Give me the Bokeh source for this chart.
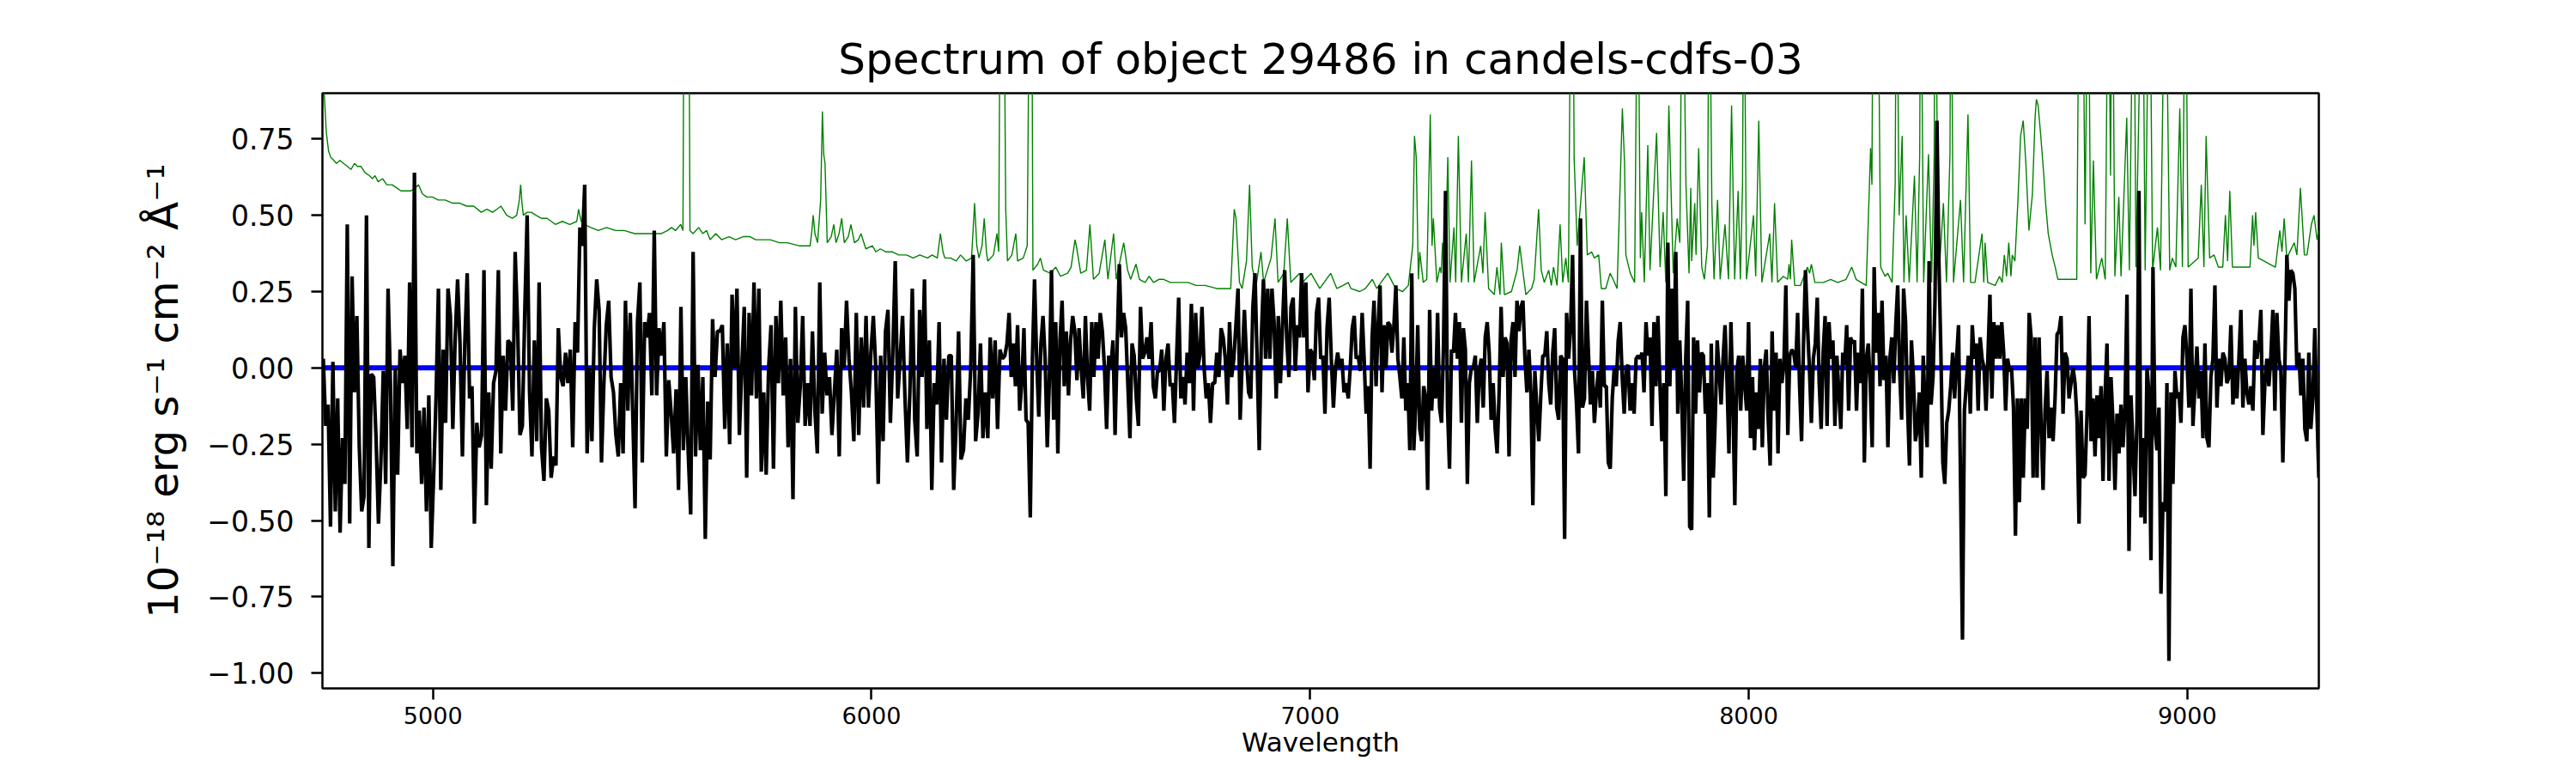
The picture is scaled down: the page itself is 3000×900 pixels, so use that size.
import numpy as np
from bokeh.plotting import figure
from bokeh.models import Range1d, FixedTicker, CustomJSTickFormatter
from bokeh.embed import file_html
from bokeh.resources import INLINE

TITLE = "Spectrum of object 29486 in candels-cdfs-03"
X_LABEL = "Wavelength"
Y_LABEL = "10\u207b\u00b9\u2078 erg s\u207b\u00b9 cm\u207b\u00b2 \u00c5\u207b\u00b9"
x_ticks = [5000, 6000, 7000, 8000, 9000]
y_ticks = [-1.0, -0.75, -0.5, -0.25, 0.0, 0.25, 0.5, 0.75]
x_limits = [4748, 9300]
y_limits = [-1.05, 0.9]

# black spectrum: wavelength segment edges and flux samples per segment
seg_edges = [4750, 5521, 6304, 7087, 7870, 8653, 9300]
flux_seg1 = [0.03, -0.19, -0.12, -0.52, 0.02, -0.47, -0.10, -0.54, -0.23, -0.38, 0.47, -0.51, 0.30, -0.08, 0.17, -0.26, -0.47, -0.42, 0.50, -0.59,
             -0.02, -0.03, -0.23, -0.51, -0.31, -0.01, -0.38, 0.26, -0.05, -0.65, 0.0, -0.35, 0.06, -0.05, 0.04, -0.20, 0.28, -0.26, 0.64, -0.28,
             -0.14, -0.38, -0.13, -0.47, -0.09, -0.59, -0.36, -0.10, 0.26, -0.40, 0.06, -0.18, 0.26, 0.17, -0.20, 0.10, 0.29, 0.08, -0.29, 0.08,
             0.31, -0.10, -0.06, -0.51, -0.18, -0.26, -0.22, 0.32, -0.45, -0.08, -0.33, -0.05, -0.01, 0.32, -0.28, 0.04, -0.14, 0.09, 0.08, -0.14,
             0.38, 0.15, -0.22, -0.19, 0.18, 0.50, -0.08, -0.29, 0.09, -0.24, 0.28, -0.26, -0.37, -0.10, -0.14, -0.36, -0.29, -0.32, 0.13, -0.03,
             -0.06, 0.05, -0.05, 0.06, -0.26, 0.15, 0.05, 0.46, 0.40, 0.60, -0.28, 0.0, -0.24, 0.13, 0.29, 0.19, -0.31, -0.05, 0.14, 0.22,
             -0.03, -0.08, -0.22, -0.29, -0.05, -0.28, 0.22, -0.14, 0.18, -0.14, -0.46, 0.15, 0.28, -0.31, 0.15, 0.10, 0.18, -0.09, 0.45, -0.09, 0.13]
flux_seg2 = [0.04, 0.15, -0.29, -0.04, -0.15, -0.28, -0.07, -0.40, 0.20, -0.27, -0.03, -0.28, -0.48, 0.38, -0.29, 0.01, -0.27, -0.03, -0.56, -0.11,
             -0.30, 0.16, -0.03, 0.12, 0.12, 0.14, -0.20, 0.08, -0.25, 0.24, 0.0, 0.26, -0.22, 0.0, 0.20, -0.36, 0.18, -0.09, 0.28, -0.10,
             0.26, -0.34, -0.08, -0.35, 0.0, 0.14, -0.33, 0.17, -0.05, 0.22, -0.09, 0.10, -0.26, 0.03, -0.43, 0.20, -0.18, -0.06, 0.17, -0.19,
             -0.05, -0.19, 0.12, -0.14, -0.28, 0.28, -0.15, 0.05, -0.09, -0.03, -0.22, -0.08, 0.06, -0.29, 0.13, 0.0, 0.22, 0.03, -0.08, -0.24,
             0.18, -0.22, 0.10, -0.13, 0.17, -0.13, 0.05, 0.17, 0.0, -0.38, 0.04, -0.24, 0.12, 0.19, -0.18, 0.05, 0.35, -0.10, 0.03, 0.17,
             -0.10, -0.31, -0.08, 0.26, -0.17, -0.29, 0.19, -0.03, 0.29, -0.20, 0.09, -0.40, -0.05, -0.12, 0.15, -0.31, 0.03, -0.17, 0.04, 0.04,
             -0.40, -0.18, 0.12, -0.30, -0.27, -0.10, -0.17, 0.0, 0.37, -0.24, -0.15, 0.08, -0.23, -0.08, -0.23, 0.10, -0.10, 0.09, -0.20, 0.06, 0.03]
flux_seg3 = [0.04, 0.08, 0.18, -0.03, 0.08, -0.06, 0.14, -0.14, -0.05, 0.13, -0.17, -0.18, -0.49, 0.03, 0.29, 0.03, -0.16, 0.08, 0.17, 0.03,
             -0.26, -0.04, 0.32, -0.17, 0.15, -0.28, 0.09, 0.22, -0.06, 0.12, -0.09, 0.09, 0.17, 0.12, -0.04, 0.13, 0.0, -0.10, 0.17, -0.03,
             -0.14, 0.15, -0.03, 0.15, 0.03, 0.18, 0.12, 0.0, -0.20, 0.04, 0.0, 0.09, -0.22, 0.08, 0.34, 0.10, 0.18, 0.13, -0.05, -0.23,
             0.08, 0.04, -0.10, -0.19, 0.20, 0.03, 0.05, 0.10, 0.03, 0.15, -0.06, -0.10, -0.01, -0.01, 0.06, -0.14, 0.03, 0.08, -0.06, -0.05,
             -0.18, 0.03, 0.23, -0.10, -0.03, -0.12, 0.05, -0.05, 0.21, -0.14, 0.18, 0.0, 0.04, 0.20, 0.0, -0.10, -0.05, -0.18, -0.05, -0.05,
             0.05, -0.03, 0.13, 0.10, 0.03, -0.12, 0.15, -0.03, 0.03, 0.14, 0.26, -0.17, 0.03, 0.19, 0.03, -0.08, -0.10, 0.20, 0.31, 0.03,
             -0.27, 0.10, 0.29, 0.03, 0.26, 0.03, 0.26, 0.15, -0.10, 0.17, -0.05, 0.14, 0.32, 0.09, -0.03, 0.20, 0.23, -0.01, 0.14, 0.10,
             0.31, 0.10, 0.28, -0.08, 0.06, 0.05, -0.04, 0.18, 0.23, 0.03, 0.04, -0.15, 0.13, 0.23, 0.03, -0.13, 0.0, 0.05, 0.0, 0.03, -0.08, -0.05]
flux_seg4 = [-0.10, 0.0, 0.13, 0.17, 0.03, 0.04, -0.01, 0.18, 0.03, -0.15, -0.06, -0.33, 0.10, 0.22, -0.06, 0.13, 0.27, -0.08, 0.14, 0.0,
             0.15, 0.14, 0.05, 0.14, 0.27, 0.03, -0.03, -0.10, 0.10, -0.14, -0.05, -0.27, 0.31, -0.27, -0.12, 0.14, -0.20, -0.24, -0.06, -0.10,
             -0.40, 0.19, -0.14, 0.0, -0.10, 0.18, -0.13, -0.18, 0.08, 0.58, -0.13, -0.33, 0.06, 0.05, 0.18, 0.03, 0.15, -0.18, 0.13, 0.06,
             -0.38, -0.05, 0.0, 0.0, 0.04, -0.18, -0.01, 0.03, -0.13, 0.10, 0.15, 0.05, -0.17, -0.05, -0.20, -0.28, -0.08, 0.20, -0.03, 0.10,
             0.08, -0.29, 0.09, 0.15, -0.03, 0.22, 0.12, 0.20, 0.22, 0.03, -0.08, 0.06, -0.08, -0.45, -0.01, -0.13, -0.24, -0.09, 0.04, 0.04,
             0.12, -0.05, -0.12, 0.05, 0.13, -0.13, -0.17, 0.04, 0.03, -0.56, 0.18, 0.03, 0.13, 0.37, -0.01, -0.12, -0.28, 0.49, -0.13, -0.10,
             0.22, 0.05, -0.12, -0.01, -0.18, -0.08, -0.01, -0.13, 0.22, -0.06, -0.06, -0.31, -0.33, -0.10, 0.0, -0.06, 0.09, 0.15, -0.03, -0.15,
             0.0, 0.01, -0.14, -0.05, -0.15, 0.03, 0.04, 0.03, 0.05, -0.08, 0.15, 0.04, 0.10, -0.19, 0.15, -0.06, 0.17, -0.05, -0.24, -0.05,
             -0.42, 0.41, -0.06, 0.26, 0.0, 0.38, -0.15, 0.09, -0.10, -0.37, 0.03, 0.22, -0.52]
flux_seg5 = [-0.53, 0.10, -0.15, 0.09, -0.08, 0.05, 0.04, -0.15, -0.05, -0.49, 0.08, -0.36, -0.17, 0.09, -0.01, -0.12, 0.03, 0.14, -0.04, -0.28,
             0.15, -0.10, -0.45, -0.01, 0.04, -0.14, 0.04, -0.05, -0.14, 0.15, -0.23, -0.03, -0.27, -0.08, -0.20, 0.03, -0.26, 0.0, 0.06, -0.17,
             -0.32, 0.12, -0.14, 0.05, -0.28, 0.03, -0.05, 0.01, 0.27, -0.22, 0.04, 0.06, 0.05, 0.0, 0.18, -0.06, -0.24, 0.08, 0.32, 0.14,
             0.0, -0.18, 0.03, 0.08, 0.23, -0.05, -0.20, 0.05, 0.17, -0.19, 0.15, 0.03, 0.09, -0.19, 0.04, -0.08, -0.20, 0.05, 0.01, 0.14,
             -0.14, 0.10, 0.08, 0.09, -0.14, 0.05, -0.05, 0.26, -0.31, 0.03, 0.08, -0.05, -0.26, 0.33, 0.05, 0.18, -0.06, 0.22, -0.04, 0.04,
             -0.26, 0.03, 0.10, -0.05, 0.14, 0.27, -0.01, -0.17, 0.26, 0.15, -0.12, -0.32, 0.09, -0.03, -0.24, -0.20, -0.08, -0.36, 0.04, -0.14,
             -0.26, 0.35, -0.12, -0.03, 0.22, 0.81, 0.35, 0.05, -0.31, -0.38, -0.18, -0.14, -0.06, 0.05, -0.10, 0.03, 0.14, -0.36, -0.89, -0.14,
             -0.05, 0.04, -0.15, 0.14, 0.03, 0.08, -0.14, 0.10, 0.03, 0.0, -0.14, 0.04, 0.24, -0.10, 0.15, 0.03, 0.14, 0.03, 0.15, 0.05,
             -0.14, 0.03, -0.01, 0.0, -0.13, -0.55, -0.10, -0.44, -0.10, -0.36, -0.10, -0.20, 0.18, 0.10, -0.36]
flux_seg6 = [0.10, -0.36, 0.10, -0.18, -0.40, -0.14, -0.01, -0.23, -0.13, -0.24, -0.10, 0.11, 0.12, 0.17, -0.15, 0.05, 0.03, -0.10, -0.05, 0.0,
             -0.05, -0.17, -0.51, -0.14, -0.36, -0.35, -0.15, 0.17, -0.24, -0.10, -0.29, -0.09, -0.23, -0.06, -0.37, -0.09, 0.08, -0.37, -0.03, -0.18,
             -0.40, -0.15, -0.28, -0.12, -0.26, -0.13, 0.24, -0.60, -0.09, -0.26, -0.42, -0.17, 0.58, -0.49, -0.23, -0.51, 0.0, -0.08, -0.63, 0.33,
             -0.20, -0.27, -0.13, -0.74, -0.44, -0.47, -0.05, -0.96, -0.08, -0.38, -0.01, -0.10, -0.08, -0.18, 0.10, 0.14, 0.03, -0.13, 0.26, -0.19,
             -0.06, 0.07, -0.10, -0.01, -0.23, 0.08, -0.23, -0.26, -0.03, 0.03, 0.27, -0.13, 0.03, -0.06, 0.05, 0.03, -0.05, -0.03, 0.14, -0.12,
             0.0, -0.10, 0.03, 0.19, -0.13, 0.03, -0.08, -0.12, -0.06, -0.14, 0.09, 0.03, 0.08, 0.19, -0.22, -0.05, 0.03, -0.06, 0.04, 0.19,
             -0.14, 0.18, 0.03, -0.01, -0.31, 0.0, 0.37, 0.22, 0.32, 0.31, 0.26, 0.0, 0.05, -0.09, 0.03, -0.20, -0.24, 0.05, -0.20, -0.10,
             0.13, -0.13, -0.36]

# green (sky / error) spectrum, read as wavelength / flux vertices
green_wave_a = [4748, 4752, 4757, 4762, 4767, 4774, 4780, 4788, 4796, 4805, 4813, 4821, 4828, 4836, 4845, 4855, 4862, 4868, 4875, 4885,
                4895, 4907, 4917, 4927, 4938, 4950, 4960, 4967, 4976, 4986, 4999, 5012, 5028, 5044, 5060, 5077, 5093, 5110, 5123, 5136,
                5146, 5155, 5168, 5181, 5191, 5197, 5200, 5203, 5206, 5215, 5224, 5235, 5247, 5260, 5270, 5279, 5295, 5312, 5328, 5332,
                5338, 5345, 5360, 5377, 5396, 5416, 5436, 5460, 5482, 5500]
green_flux_a = [1.0, 0.90, 0.77, 0.71, 0.69, 0.68, 0.67, 0.68, 0.67, 0.66, 0.65, 0.67, 0.66, 0.66, 0.64, 0.63, 0.62, 0.63, 0.61, 0.62,
                0.60, 0.60, 0.59, 0.58, 0.58, 0.58, 0.59, 0.60, 0.57, 0.56, 0.56, 0.55, 0.55, 0.54, 0.54, 0.53, 0.53, 0.51, 0.52, 0.51,
                0.52, 0.53, 0.50, 0.49, 0.50, 0.55, 0.60, 0.54, 0.50, 0.51, 0.51, 0.50, 0.49, 0.49, 0.48, 0.47, 0.48, 0.47, 0.48, 0.52,
                0.48, 0.47, 0.46, 0.45, 0.46, 0.45, 0.45, 0.44, 0.44, 0.44]
green_wave_b = [5521, 5535, 5544, 5553, 5565, 5570, 5573, 5583, 5586, 5593, 5606, 5615, 5624, 5632, 5645, 5658, 5675, 5690, 5707, 5723,
                5736, 5749, 5769, 5790, 5808, 5835, 5860, 5864, 5867, 5871, 5877, 5884, 5888, 5891, 5894, 5899, 5908, 5914, 5919, 5926,
                5932, 5938, 5947, 5953, 5961, 5970, 5976, 5987, 6002, 6010, 6020, 6033, 6048, 6062, 6080, 6095, 6110, 6128, 6138, 6150,
                6157, 6163, 6167, 6180, 6193, 6203, 6216, 6228, 6235, 6240, 6245, 6252, 6257, 6262, 6265, 6278, 6286, 6290, 6294, 6301]
green_flux_b = [0.44, 0.45, 0.46, 0.45, 0.47, 0.45, 1.5, 1.5, 0.45, 0.44, 0.46, 0.44, 0.45, 0.42, 0.44, 0.42, 0.43, 0.42, 0.43, 0.43,
                0.42, 0.42, 0.42, 0.41, 0.41, 0.40, 0.40, 0.45, 0.50, 0.44, 0.41, 0.55, 0.84, 0.70, 0.67, 0.41, 0.43, 0.47, 0.41, 0.44,
                0.49, 0.41, 0.43, 0.47, 0.41, 0.42, 0.44, 0.39, 0.40, 0.38, 0.39, 0.38, 0.38, 0.37, 0.37, 0.36, 0.37, 0.36, 0.37, 0.36,
                0.44, 0.38, 0.36, 0.36, 0.35, 0.37, 0.35, 0.36, 0.54, 0.40, 0.36, 0.40, 0.49, 0.38, 0.35, 0.37, 0.44, 0.38, 1.5, 1.5]
green_wave_c = [6306, 6310, 6320, 6329, 6333, 6346, 6355, 6361, 6365, 6368, 6379, 6385, 6392, 6408, 6420, 6431, 6447, 6455, 6464, 6467,
                6477, 6490, 6498, 6506, 6519, 6532, 6539, 6552, 6558, 6575, 6584, 6591, 6603, 6611, 6624, 6633, 6643, 6655, 6666, 6682,
                6700, 6722, 6740, 6761, 6787, 6805, 6819, 6827, 6831, 6839, 6845, 6855, 6862, 6868, 6877, 6888, 6894, 6911, 6920, 6927,
                6940, 6948, 6956, 6976, 6983, 7002, 7022, 7047, 7061, 7075]
green_flux_c = [0.52, 0.35, 0.37, 0.44, 0.35, 0.36, 0.40, 1.5, 1.5, 0.32, 0.34, 0.36, 0.32, 0.31, 0.33, 0.30, 0.31, 0.33, 0.42, 0.40,
                0.31, 0.32, 0.47, 0.29, 0.31, 0.42, 0.29, 0.44, 0.29, 0.41, 0.32, 0.29, 0.34, 0.29, 0.28, 0.30, 0.28, 0.29, 0.29, 0.28,
                0.28, 0.28, 0.27, 0.27, 0.26, 0.26, 0.26, 0.52, 0.49, 0.28, 0.26, 0.35, 0.60, 0.33, 0.27, 0.38, 0.28, 0.36, 0.49, 0.28,
                0.31, 0.49, 0.28, 0.31, 0.28, 0.31, 0.26, 0.31, 0.26, 0.27]
green_wave_d = [7087, 7093, 7113, 7126, 7142, 7152, 7177, 7195, 7211, 7224, 7234, 7238, 7242, 7247, 7250, 7258, 7266, 7274, 7278, 7281,
                7289, 7296, 7299, 7302, 7307, 7314, 7319, 7328, 7332, 7338, 7345, 7356, 7361, 7368, 7374, 7389, 7394, 7399, 7407, 7420,
                7426, 7433, 7436, 7443, 7459, 7472, 7478, 7484, 7492, 7505, 7511, 7521, 7527, 7534, 7544, 7550, 7555, 7563, 7570, 7576,
                7583, 7589, 7595, 7599, 7602, 7609, 7625, 7632, 7642, 7648, 7658, 7664, 7674, 7684, 7691, 7700, 7712, 7717, 7720, 7730,
                7740, 7747, 7753, 7756, 7762, 7770, 7775, 7790, 7798, 7805, 7811, 7818, 7828, 7837, 7843, 7849, 7857, 7864, 7868]
green_flux_d = [0.28, 0.26, 0.25, 0.26, 0.29, 0.26, 0.31, 0.26, 0.25, 0.27, 0.40, 0.76, 0.69, 0.29, 0.38, 0.28, 0.29, 0.83, 0.40, 0.49,
                0.28, 0.33, 0.31, 0.41, 0.28, 0.69, 0.28, 0.46, 0.28, 0.76, 0.28, 0.44, 0.28, 0.68, 0.28, 0.40, 0.31, 0.51, 0.26, 0.24,
                0.33, 0.24, 0.41, 0.24, 0.25, 0.32, 0.40, 0.33, 0.24, 0.26, 0.29, 0.52, 0.32, 0.28, 0.32, 0.27, 0.33, 0.27, 0.47, 0.28,
                0.36, 0.28, 1.5, 1.5, 0.69, 0.40, 0.69, 0.37, 0.38, 0.36, 0.37, 0.26, 0.26, 0.31, 0.29, 0.26, 0.85, 0.67, 0.37, 0.31,
                0.28, 1.5, 0.36, 0.51, 0.28, 0.73, 0.32, 0.77, 0.33, 0.51, 0.28, 0.86, 0.31, 0.49, 0.41, 1.5, 0.60, 0.31, 0.59]
green_wave_e = [7870, 7877, 7880, 7886, 7893, 7899, 7906, 7910, 7916, 7921, 7929, 7935, 7946, 7954, 7961, 7968, 7976, 7981, 7986, 7989,
                7995, 8011, 8016, 8023, 8030, 8048, 8053, 8059, 8066, 8079, 8089, 8092, 8095, 8098, 8105, 8118, 8134, 8139, 8143, 8151,
                8170, 8187, 8203, 8222, 8235, 8245, 8268, 8278, 8281, 8284, 8294, 8301, 8311, 8317, 8327, 8334, 8337, 8343, 8350, 8354,
                8359, 8366, 8378, 8384, 8390, 8392, 8399, 8410, 8417, 8423, 8425, 8433, 8444, 8451, 8459, 8461, 8467, 8483, 8490, 8500,
                8506, 8516, 8532, 8536, 8539, 8545, 8562, 8572, 8578, 8583, 8588, 8593, 8598, 8601, 8607, 8614, 8620, 8626, 8632, 8639, 8647]
green_flux_e = [0.35, 0.54, 0.37, 0.72, 0.33, 0.29, 0.40, 1.5, 0.54, 0.29, 0.55, 0.29, 0.47, 0.29, 0.86, 0.29, 0.58, 0.29, 0.60, 1.5,
                0.29, 0.50, 0.30, 0.81, 0.28, 0.44, 0.28, 0.54, 0.28, 0.30, 0.29, 0.34, 0.29, 0.42, 0.27, 0.27, 0.33, 0.31, 0.34, 0.28,
                0.28, 0.29, 0.28, 0.29, 0.33, 0.29, 0.27, 0.72, 0.60, 1.5, 1.5, 0.33, 0.30, 0.31, 0.28, 0.60, 1.5, 0.50, 0.76, 0.28,
                0.50, 0.28, 0.63, 0.28, 0.70, 1.5, 0.28, 0.70, 0.28, 0.70, 1.5, 0.28, 0.54, 0.28, 0.70, 1.5, 0.28, 0.55, 0.28, 0.83,
                0.28, 0.28, 0.44, 0.28, 0.41, 0.28, 0.27, 0.30, 0.28, 0.37, 0.30, 0.41, 0.30, 0.37, 0.35, 0.55, 0.76, 0.81, 0.67, 0.45, 0.57]
green_wave_f = [8653, 8656, 8660, 8666, 8673, 8677, 8683, 8692, 8699, 8705, 8718, 8731, 8748, 8754, 8761, 8767, 8774, 8780, 8786, 8793,
                8805, 8813, 8820, 8825, 8829, 8835, 8844, 8849, 8862, 8868, 8878, 8883, 8898, 8904, 8914, 8921, 8932, 8939, 8950, 8960,
                8966, 8974, 8983, 8989, 8996, 9002, 9025, 9032, 9038, 9043, 9051, 9061, 9071, 9081, 9087, 9092, 9097, 9103, 9126, 9143,
                9149, 9152, 9156, 9162, 9175, 9188, 9201, 9211, 9216, 9221, 9227, 9244, 9250, 9258, 9267, 9273, 9283, 9289, 9296, 9300]
green_flux_f = [0.82, 0.88, 0.86, 0.76, 0.63, 0.54, 0.44, 0.37, 0.33, 0.29, 0.29, 0.29, 0.29, 1.5, 1.5, 0.47, 1.5, 0.31, 0.68, 0.29,
                0.36, 0.29, 1.5, 0.63, 1.5, 0.30, 0.56, 0.30, 0.82, 0.32, 1.5, 0.33, 1.5, 0.32, 1.5, 0.32, 0.46, 0.32, 1.5, 0.32,
                0.36, 0.33, 0.85, 0.33, 1.5, 0.33, 0.36, 0.60, 0.33, 0.76, 0.36, 0.37, 0.33, 0.33, 0.50, 0.35, 0.58, 0.33, 0.33, 0.33,
                0.50, 0.40, 0.51, 0.36, 0.35, 0.34, 0.33, 0.45, 0.38, 0.49, 0.36, 0.41, 0.37, 0.59, 0.37, 0.37, 0.47, 0.50, 0.42, 0.45]

# blue zero-level model line
zero_wave = [4748, 9300]
zero_flux = [0.0, 0.0]

# ---------- assemble series ----------
flux_segments = [flux_seg1, flux_seg2, flux_seg3, flux_seg4, flux_seg5, flux_seg6]
black_wave, black_flux = [], []
for i, seg in enumerate(flux_segments):
    last = i == len(flux_segments) - 1
    w = np.linspace(seg_edges[i], seg_edges[i + 1], len(seg), endpoint=last)
    black_wave.extend(w.tolist())
    black_flux.extend(seg)

green_wave, green_flux = [], []
for gw, gf in [(green_wave_a, green_flux_a), (green_wave_b, green_flux_b), (green_wave_c, green_flux_c),
               (green_wave_d, green_flux_d), (green_wave_e, green_flux_e), (green_wave_f, green_flux_f)]:
    n = min(len(gw), len(gf))
    green_wave.extend(gw[:n])
    green_flux.extend(gf[:n])

FONT = "DejaVu Sans"

p = figure(width=2984, height=884, output_backend="svg", toolbar_location=None,
           x_range=Range1d(*x_limits), y_range=Range1d(*y_limits),
           min_border_left=375, min_border_right=284, min_border_top=108, min_border_bottom=83,
           title=TITLE)
p.background_fill_color = "white"
p.border_fill_color = "white"
p.grid.visible = False
p.outline_line_color = "black"
p.outline_line_width = 2.5

p.title.text_font = FONT
p.title.text_font_size = "50px"
p.title.text_font_style = "normal"
p.title.text_color = "black"
p.title.align = "center"
p.title.standoff = 22

p.line(green_wave, green_flux, line_color="green", line_width=1.4)
p.line(zero_wave, zero_flux, line_color="blue", line_width=6)
p.line(black_wave, black_flux, line_color="black", line_width=4.2)

xa = p.xaxis[0]
xa.ticker = FixedTicker(ticks=x_ticks)
xa.formatter = CustomJSTickFormatter(code="return tick.toFixed(0);")
xa.axis_label = X_LABEL
xa.axis_label_text_font = FONT
xa.axis_label_text_font_size = "31px"
xa.axis_label_text_font_style = "normal"
xa.axis_label_standoff = 0
xa.major_label_text_font = FONT
xa.major_label_text_font_size = "27px"
xa.major_label_standoff = 8

ya = p.yaxis[0]
ya.ticker = FixedTicker(ticks=y_ticks)
ya.formatter = CustomJSTickFormatter(code="return tick.toFixed(2).replace('-', '\u2212');")
ya.axis_label = Y_LABEL
ya.axis_label_text_font = FONT
ya.axis_label_text_font_size = "48px"
ya.axis_label_text_font_style = "normal"
ya.axis_label_standoff = 20
ya.major_label_text_font = FONT
ya.major_label_text_font_size = "33px"
ya.major_label_standoff = 20

for ax in (xa, ya):
    ax.axis_line_color = None
    ax.major_tick_in = 0
    ax.major_tick_out = 13
    ax.major_tick_line_width = 2.5
    ax.major_tick_line_color = "black"
    ax.minor_tick_line_color = None
    ax.major_label_text_color = "black"
    ax.axis_label_text_color = "black"

open("out.html", "w").write(file_html(p, INLINE))
